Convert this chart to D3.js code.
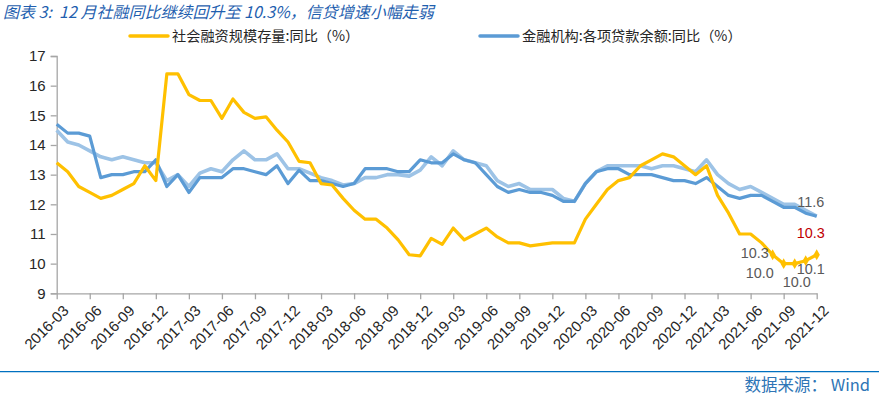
<!DOCTYPE html>
<html>
<head>
<meta charset="utf-8">
<script src="https://cdn.jsdelivr.net/npm/d3@7"></script>
<style>
  body { margin: 0; background: #fff; }
  svg { display: block; font-family: "Liberation Sans", Arial, "Noto Sans CJK SC", sans-serif; }
</style>
</head>
<body>
<div id="chart"></div>
<script>
// months 2016-03 .. 2021-12
var months = [];
for (var yr = 2016; yr <= 2021; yr++) {
  for (var mo = 1; mo <= 12; mo++) {
    if (yr === 2016 && mo < 3) continue;
    months.push(yr + "-" + (mo < 10 ? "0" + mo : mo));
  }
}

var tsf = [13.4, 13.1, 12.6, 12.4, 12.2, 12.3, 12.5, 12.7, 13.3, 12.8,
  16.4, 16.4, 15.7, 15.5, 15.5, 14.9, 15.55, 15.1, 14.9, 14.95, 14.5, 14.1,
  13.45, 13.4, 12.7, 12.65, 12.2, 11.8, 11.5, 11.5, 11.2, 10.8, 10.3, 10.26,
  10.85, 10.65, 11.2, 10.8, 11.0, 11.2, 10.9, 10.7, 10.7, 10.6, 10.65, 10.7,
  10.7, 10.7, 11.5, 12.0, 12.5, 12.8, 12.9, 13.3, 13.5, 13.7, 13.6, 13.3,
  13.0, 13.3, 12.3, 11.7, 11.0, 11.0, 10.7, 10.3, 10.0, 10.0, 10.1, 10.3];

var loans = [14.7, 14.4, 14.4, 14.3, 12.9, 13.0, 13.0, 13.1, 13.1, 13.5,
  12.6, 13.0, 12.4, 12.9, 12.9, 12.9, 13.2, 13.2, 13.1, 13.0, 13.3, 12.7,
  13.15, 12.8, 12.8, 12.7, 12.6, 12.7, 13.2, 13.2, 13.2, 13.1, 13.1, 13.5,
  13.4, 13.4, 13.7, 13.5, 13.4, 13.0, 12.6, 12.4, 12.5, 12.4, 12.4, 12.3,
  12.1, 12.1, 12.7, 13.1, 13.2, 13.2, 13.0, 13.0, 13.0, 12.9, 12.8, 12.8,
  12.7, 12.9, 12.6, 12.3, 12.2, 12.3, 12.3, 12.1, 11.9, 11.9, 11.7, 11.6];

var rmbLoans = [14.5, 14.1, 14.0, 13.8, 13.6, 13.5, 13.6, 13.5, 13.4, 13.4,
  12.8, 13.0, 12.6, 13.05, 13.2, 13.1, 13.5, 13.8, 13.5, 13.5, 13.7, 13.2,
  13.2, 13.05, 12.9, 12.8, 12.65, 12.7, 12.9, 12.9, 13.0, 13.0, 12.95, 13.15,
  13.6, 13.3, 13.8, 13.5, 13.4, 13.3, 12.8, 12.6, 12.7, 12.5, 12.5, 12.5,
  12.2, 12.1, 12.7, 13.1, 13.3, 13.3, 13.3, 13.3, 13.2, 13.3, 13.3, 13.2,
  13.1, 13.5, 13.0, 12.7, 12.5, 12.6, 12.4, 12.2, 12.0, 12.0, 11.8, 11.6];

var yTicks = [9, 10, 11, 12, 13, 14, 15, 16, 17];
var xTickLabels = months.filter(function(d, i) { return i % 3 === 0; });

// point labels on the last months
var tsfLabels = [
  {i: 65, text: "10.3", dx: -4, dy: 3, anchor: "end", color: "#595959"},
  {i: 66, text: "10.0", dx: -10, dy: 14, anchor: "end", color: "#595959"},
  {i: 67, text: "10.0", dx: 2, dy: 23, anchor: "middle", color: "#595959"},
  {i: 68, text: "10.1", dx: 5, dy: 13, anchor: "middle", color: "#595959"},
  {i: 69, text: "10.3", dx: -6, dy: -17, anchor: "middle", color: "#C00000"}
];

var W = 879, H = 402;
var plotL = 56.7, plotR = 816.7, plotT = 56, plotB = 293.3;

var svg = d3.select("#chart").append("svg")
  .attr("width", W)
  .attr("height", H);

var x = d3.scalePoint().domain(months).range([plotL, plotR]);
var yScale = d3.scaleLinear().domain([9, 17]).range([plotB, plotT]);

// title
svg.append("text")
  .attr("x", 3)
  .attr("y", 18)
  .attr("font-size", 16)
  .attr("font-style", "italic")
  .attr("fill", "#1F5FAF")
  .attr("font-family", "'Noto Sans CJK SC', sans-serif")
  .attr("xml:space", "preserve")
  .text("图表 3:  12 月社融同比继续回升至 10.3%，信贷增速小幅走弱");

// legend
var legendItems = [
  {name: "社会融资规模存量:同比（%）", color: "#FFC000", x: 130},
  {name: "金融机构:各项贷款余额:同比（%）", color: "#5B9BD5", x: 480}
];
var lg = svg.selectAll(".lg").data(legendItems).enter().append("g")
  .attr("transform", function(d) { return "translate(" + d.x + ",36)"; });
lg.append("line")
  .attr("x1", 0).attr("x2", 38)
  .attr("stroke", function(d) { return d.color; })
  .attr("stroke-width", 3.5)
  .attr("stroke-linecap", "round");
lg.append("text")
  .attr("x", 42)
  .attr("y", 5)
  .attr("font-size", 14.2)
  .attr("fill", "#262626")
  .attr("font-family", "'Noto Sans CJK SC', sans-serif")
  .text(function(d) { return d.name; });

// axes
var yAxis = svg.append("g")
  .attr("transform", "translate(" + plotL + ",0)")
  .call(d3.axisLeft(yScale).tickValues(yTicks).tickSize(6).tickPadding(5));
var xAxis = svg.append("g")
  .attr("transform", "translate(0," + plotB + ")")
  .call(d3.axisBottom(x).tickValues(xTickLabels).tickSize(6).tickSizeOuter(0));

[yAxis, xAxis].forEach(function(a) {
  a.select(".domain").attr("stroke", "#A6A6A6").attr("stroke-width", 1.3);
  a.selectAll(".tick line").attr("stroke", "#A6A6A6").attr("stroke-width", 1.3);
  a.selectAll("text").attr("fill", "#262626").attr("font-family", "'Liberation Sans', Arial, sans-serif");
});
yAxis.selectAll("text").attr("font-size", 15);
xAxis.selectAll("text")
  .attr("font-size", 15)
  .attr("text-anchor", "end")
  .attr("dx", 0)
  .attr("dy", 0)
  .attr("transform", "translate(6,12) rotate(-45)");

// lines
var line = function(vals) {
  return d3.line()
    .x(function(d, i) { return x(months[i]); })
    .y(function(d) { return yScale(d); })(vals);
};

var series = [
  {vals: rmbLoans, color: "#9DC3E6", w: 3.6},
  {vals: loans, color: "#5B9BD5", w: 3.2},
  {vals: tsf, color: "#FFC000", w: 3.2}
];
svg.selectAll(".series").data(series).enter().append("path")
  .attr("d", function(d) { return line(d.vals); })
  .attr("fill", "none")
  .attr("stroke", function(d) { return d.color; })
  .attr("stroke-width", function(d) { return d.w; })
  .attr("stroke-linejoin", "round");

// markers on labeled points
svg.selectAll(".mk").data(tsfLabels).enter().append("path")
  .attr("d", d3.symbol().type(d3.symbolDiamond).size(34))
  .attr("transform", function(d) { return "translate(" + x(months[d.i]) + "," + yScale(tsf[d.i]) + ")"; })
  .attr("fill", "#FFC000");

svg.selectAll(".pl").data(tsfLabels).enter().append("text")
  .attr("x", function(d) { return x(months[d.i]) + d.dx; })
  .attr("y", function(d) { return yScale(tsf[d.i]) + d.dy; })
  .attr("text-anchor", function(d) { return d.anchor; })
  .attr("font-size", 14.4)
  .attr("fill", function(d) { return d.color; })
  .text(function(d) { return d.text; });

svg.append("text")
  .attr("x", x(months[69]) - 6)
  .attr("y", yScale(loans[69]) - 9)
  .attr("text-anchor", "middle")
  .attr("font-size", 14.4)
  .attr("fill", "#595959")
  .text(loans[69].toFixed(1));

// bottom rule and source
svg.append("line")
  .attr("x1", 0).attr("x2", W)
  .attr("y1", 371.7).attr("y2", 371.7)
  .attr("stroke", "#0070C0")
  .attr("stroke-width", 1.3);
svg.append("text")
  .attr("x", 870)
  .attr("y", 391)
  .attr("text-anchor", "end")
  .attr("font-size", 16.5)
  .attr("fill", "#2E75B6")
  .attr("font-family", "'Noto Sans CJK SC', sans-serif")
  .attr("xml:space", "preserve")
  .text("数据来源： Wind");
</script>
</body>
</html>
